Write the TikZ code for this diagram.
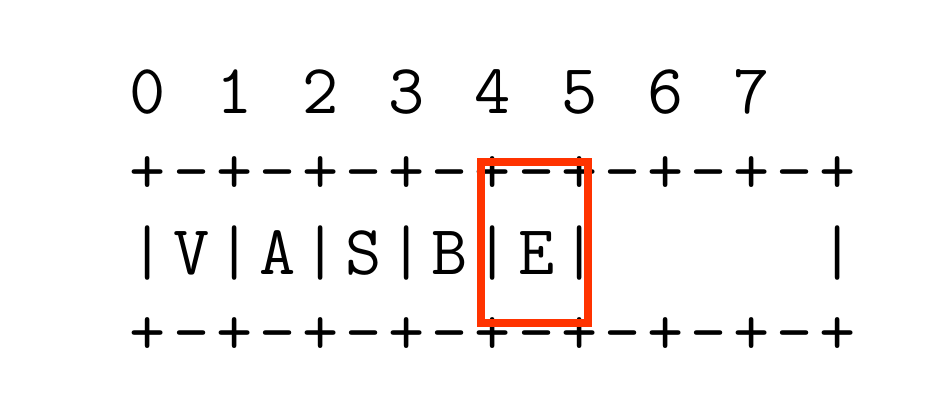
\documentclass[tikz,border=0pt]{standalone}
\usetikzlibrary{positioning}
\definecolor{hired}{HTML}{FF3300}
\tikzset{
	ttchar/.style={font=\fontsize{40}{40}\fontseries{l}\selectfont\ttfamily, inner sep=0pt, anchor=base}
}
\tikzset{
	hilite/.style={draw=hired, line width=4.5pt}
}

\begin{document}
\begin{tikzpicture}[x=0.02cm, y=-0.02cm]
      \useasboundingbox[fill=white] (0,0) rectangle (948,419);

      % slot numbers
      \foreach \k in {0,...,7}
        \node[ttchar] (d\k) at (148+86.25*\k,113) {\k};

      % top and bottom rules
      \foreach \k in {0,...,8} {
        \node[ttchar] (tp\k) at (148+86.25*\k,194) {+};
        \node[ttchar] (bp\k) at (148+86.25*\k,354) {+};
      }
      \foreach \k in {0,...,7} {
        \node[ttchar] (td\k) at (191.125+86.25*\k,194) {-};
        \node[ttchar] (bd\k) at (191.125+86.25*\k,354) {-};
      }

      % cells, the last three are empty
      \foreach \k in {0,...,5}
        \node[ttchar] (bar\k) at (148+86.25*\k,274) {|};
      \node[ttchar] (bar8) at (838,274) {|};
      \foreach \ch [count=\k from 0] in {V,A,S,B,E}
        \node[ttchar] (cell\k) at (191.125+86.25*\k,274) {\ch};

      % slot 4 marked
      \draw[hilite] (481,162) rectangle (588,323);
\end{tikzpicture}
\end{document}
